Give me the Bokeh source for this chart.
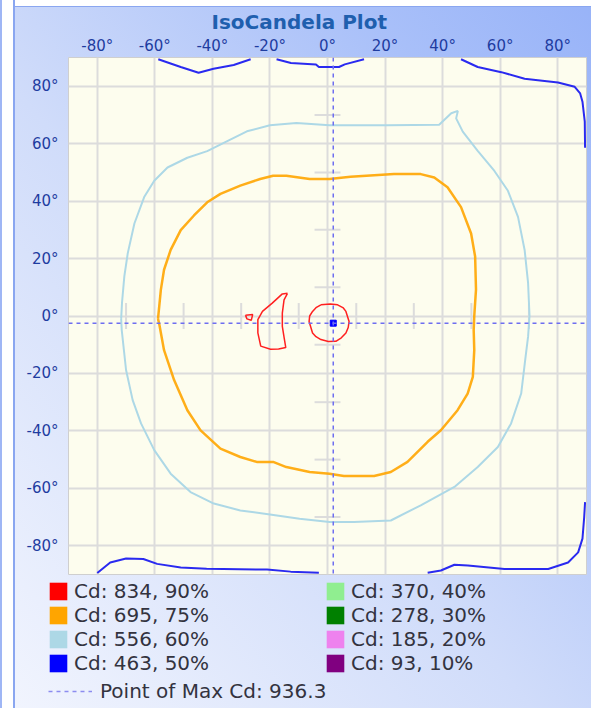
from bokeh.plotting import figure
from bokeh.models import FixedTicker, Legend, LegendItem, Span, Range1d
from bokeh.layouts import column
from bokeh.embed import file_html
from bokeh.resources import INLINE

NaN = float("nan")

# ---- axis ticks ----
tick_values = [-80, -60, -40, -20, 0, 20, 40, 60, 80]
tick_labels = [f"{v}°" for v in tick_values]
minor_marks = [-70, -50, -30, -10, 10, 30, 50, 70]

# ---- legend levels ----
levels_cd = [834, 695, 556, 463, 370, 278, 185, 93]
levels_pct = [90, 75, 60, 50, 40, 30, 20, 10]
level_colors = ["#ff0000", "#ffa500", "#add8e6", "#0000ff",
                "#90ee90", "#008000", "#ee82ee", "#800080"]

# ---- point of maximum ----
max_cd = 936.3
max_x = 2.0
max_y = -2.5

# ---- contour 90% (834 cd): three small loops ----
c90_x = [-2.3, 1.0, 3.5, 5.5, 6.4, 7.5, 7.2, 6.4, 4.8, 2.9, 0.3, -2.3, -4.0, -5.2, -6.4, -6.2, -5.2, -4.0, -2.3, NaN,
         -13.9, -15.1, -15.7, -15.7, -15.0, -14.5, -17.0, -19.8, -23.2, -24.2, -24.2, -22.6, -19.2, -15.7, -13.9, NaN,
         -28.5, -26.0, -26.5, -28.0, -28.5]
c90_y = [3.9, 4.2, 3.9, 2.8, 1.6, -1.9, -4.0, -5.9, -7.6, -8.8, -8.9, -8.2, -7.2, -5.9, -1.9, 0.0, 1.6, 2.9, 3.9, NaN,
         7.9, 5.6, 1.0, -3.6, -8.0, -11.0, -11.5, -11.6, -10.5, -5.9, -1.3, 1.6, 4.5, 7.7, 7.9, NaN,
         0.3, 0.5, -1.5, -1.0, 0.3]

# ---- contour 75% (695 cd) ----
c75_x = [-58.9, -57.9, -56.8, -54.5, -51.0, -46.4, -41.8, -37.2, -30.3, -23.4, -18.9, -14.3, -6.2, 0.7, 8.0,
         23.1, 32.4, 37.1, 41.7, 46.4, 49.9, 51.3, 51.6, 51.0, 50.8, 51.0, 50.5, 48.7, 45.2, 39.4, 34.8, 27.8,
         22.0, 16.2, 5.7, 0.7, -6.2, -14.3, -18.9, -24.6, -30.3, -37.2, -44.1, -48.7, -53.3, -56.8, -58.5, -58.9]
c75_y = [-1.0, 9.2, 16.1, 23.0, 29.9, 35.0, 39.6, 42.5, 45.4, 47.7, 48.8, 48.8, 47.7, 47.7, 48.5,
         49.4, 49.4, 48.2, 44.8, 37.9, 28.7, 20.7, 9.2, 0.0, -4.9, -11.9, -21.2, -27.0, -32.8, -39.8, -43.8, -50.8,
         -54.3, -55.7, -55.7, -54.9, -54.3, -52.6, -50.8, -50.8, -49.1, -46.2, -39.8, -32.8, -22.3, -11.9, -2.6, -1.0]

# ---- contour 60% (556 cd) ----
c60_x = [-71.7, -71.4, -70.6, -69.4, -67.1, -63.7, -60.2, -55.6, -48.7, -41.8, -35.0, -28.0, -20.0, -10.8, 0.7,
         9.2, 20.8, 38.8, 43.0, 45.3, 44.7, 47.0, 52.2, 58.0, 62.7, 66.2, 68.5, 69.7, 70.2, 69.7, 68.7, 67.3,
         63.8, 59.2, 52.2, 44.1, 32.4, 22.0, 9.2, 0.7, -9.7, -20.0, -30.3, -39.5, -47.6, -54.5, -60.2, -64.8,
         -67.7, -70.0, -71.5, -71.7]
c60_y = [-1.0, 4.7, 13.8, 21.9, 32.2, 41.4, 47.1, 51.7, 55.1, 57.4, 60.8, 64.3, 66.4, 67.2, 66.4,
         66.4, 66.4, 66.6, 70.6, 71.4, 68.8, 64.2, 57.5, 50.5, 43.6, 34.5, 23.0, 11.5, 0.0, -7.2, -15.3, -27.0,
         -37.4, -45.6, -52.6, -59.5, -65.9, -71.2, -71.7, -71.7, -70.6, -69.1, -67.7, -65.3, -61.3, -54.9, -46.7, -37.4,
         -29.3, -18.8, -4.9, -1.0]

# ---- contour 50% (463 cd): pieces near the edges ----
c50_x = [-58.8, -51.0, -44.8, -39.6, -32.6, -26.7, NaN,
         -17.7, -12.7, -4.0, -3.0, 4.0, 6.0, 12.7, NaN,
         46.4, 52.2, 60.4, 68.5, 73.1, 80.1, 85.9, 87.8, 88.6, 89.4, 89.5, NaN,
         -80.0, -75.5, -70.0, -64.0, -59.2, -51.0, -42.0, -21.0, -12.8, -3.0, NaN,
         34.8, 39.4, 44.1, 48.8, 61.5, 76.7, 83.6, 87.1, 88.6, 89.2, 89.5]
c50_y = [89.4, 86.7, 84.7, 86.1, 87.4, 89.4, NaN,
         89.4, 88.1, 87.6, 86.7, 86.7, 87.6, 89.4, NaN,
         89.4, 86.7, 84.9, 82.6, 82.1, 81.3, 79.8, 77.5, 74.6, 67.7, 58.6, NaN,
         -89.5, -85.8, -84.4, -84.6, -86.3, -87.6, -88.0, -88.3, -89.0, -89.4, NaN,
         -89.4, -88.6, -86.6, -86.9, -88.1, -88.1, -85.8, -82.3, -77.5, -70.0, -64.8]

FONT = "DejaVu Sans"
GRID = "#dcdcdc"

p = figure(width=591, height=575, x_range=Range1d(-90, 90), y_range=Range1d(-90, 90),
           x_axis_location="above", output_backend="svg", toolbar_location=None,
           min_border_left=68, min_border_right=5, min_border_top=57, min_border_bottom=1)
p.frame_align = False
p.border_fill_color = None
p.background_fill_color = "#fdfdee"
p.outline_line_color = "#cfcfcf"
p.outline_line_width = 1

# title
p.title.text = "IsoCandela Plot"
p.title.align = "left"
p.title.offset = 143
p.title.standoff = 0
p.title.text_font = FONT
p.title.text_font_size = "20px"
p.title.text_font_style = "bold"
p.title.text_color = "#1f5fae"

overrides = {v: lab for v, lab in zip(tick_values, tick_labels)}
for ax in (p.xaxis[0], p.yaxis[0]):
    ax.ticker = FixedTicker(ticks=tick_values)
    ax.major_label_overrides = overrides
    ax.axis_line_color = None
    ax.major_tick_line_color = None
    ax.minor_tick_line_color = None
    ax.major_tick_out = 0
    ax.major_tick_in = 0
    ax.major_label_text_font = FONT
    ax.major_label_text_font_size = "15px"
    ax.major_label_text_color = "#1e3ca0"
p.xaxis[0].major_label_standoff = 3
p.yaxis[0].major_label_standoff = 10

for g in (p.xgrid[0], p.ygrid[0]):
    g.ticker = FixedTicker(ticks=tick_values)
    g.grid_line_color = GRID
    g.grid_line_width = 2

# short ticks along the zero axes
p.segment(x0=minor_marks, y0=[-4.5] * len(minor_marks), x1=minor_marks, y1=[4.5] * len(minor_marks),
          line_color=GRID, line_width=2)
p.segment(x0=[-4.5] * len(minor_marks), y0=minor_marks, x1=[4.5] * len(minor_marks), y1=minor_marks,
          line_color=GRID, line_width=2)

# contours
p.line(c60_x, c60_y, line_color=level_colors[2], line_width=2)
p.line(c75_x, c75_y, line_color=level_colors[1], line_width=2.5, line_alpha=0.9)
p.line(c50_x, c50_y, line_color="#2a2af0", line_width=2)
p.line(c90_x, c90_y, line_color="#ff2020", line_width=1.5)

# crosshair through the maximum
DASH = "#6e6ef0"
p.add_layout(Span(location=max_x, dimension="height", line_color=DASH, line_dash="4 4", line_width=1.5))
p.add_layout(Span(location=max_y, dimension="width", line_color=DASH, line_dash="4 4", line_width=1.5))
p.scatter([max_x], [max_y], marker="square", size=6, color="#0000ff")

# ---- legend strip (separate figure, transparent) ----
lf = figure(width=591, height=133, x_range=Range1d(0, 1), y_range=Range1d(0, 1),
            x_axis_type=None, y_axis_type=None, output_backend="svg", toolbar_location=None,
            min_border=0)
lf.frame_align = False
lf.border_fill_color = None
lf.background_fill_color = None
lf.outline_line_color = None
lf.xgrid.visible = False
lf.ygrid.visible = False

# placeholder renderers (a single NaN row so that the legend draws their swatches)
swatches = []
for c in level_colors:
    swatches.append(lf.quad(left=[NaN], right=[NaN], top=[NaN], bottom=[NaN], fill_color=c, line_color=None))
labels = [f"Cd: {cd}, {pct}%" for cd, pct in zip(levels_cd, levels_pct)]
dash_r = lf.line(x=[NaN], y=[NaN], line_color="#8c8cf0", line_dash="4 4", line_width=1.5)

common = dict(orientation="vertical", padding=0, margin=0, spacing=0,
              background_fill_alpha=0, border_line_alpha=0,
              label_text_font=FONT, label_text_font_size="20px", label_text_color="#33333f")

leg1 = Legend(items=[LegendItem(label=labels[i], renderers=[swatches[i]]) for i in range(4)],
              location=(47, 33), glyph_width=22, glyph_height=22, label_height=22,
              label_standoff=5, **common)
leg2 = Legend(items=[LegendItem(label=labels[i], renderers=[swatches[i]]) for i in range(4, 8)],
              location=(324, 33), glyph_width=22, glyph_height=22, label_height=22,
              label_standoff=5, **common)
leg3 = Legend(items=[LegendItem(label=f"Point of Max Cd: {max_cd}", renderers=[dash_r])],
              location=(48, 5), glyph_width=44, glyph_height=22, label_height=22,
              label_standoff=8, **common)
for lg in (leg1, leg2, leg3):
    lf.add_layout(lg)

layout = column(p, lf, spacing=0)
layout.styles = {
    "background-image": (
        "linear-gradient(to right, #9fb6f5 0px, #9fb6f5 2px, #ffffff 2px, #ffffff 13px, "
        "#8aa6f0 13px, #8aa6f0 15px, transparent 15px),"
        "linear-gradient(to bottom, #ffffff 0px, #ffffff 6px, #8aa6f0 6px, #8aa6f0 7px, transparent 7px),"
        "linear-gradient(to top right, #f2f5fe 0%, #d0dcfa 45%, #a9c0f9 80%, #98b3f8 100%)"
    )
}

open("out.html", "w").write(file_html(layout, INLINE))
